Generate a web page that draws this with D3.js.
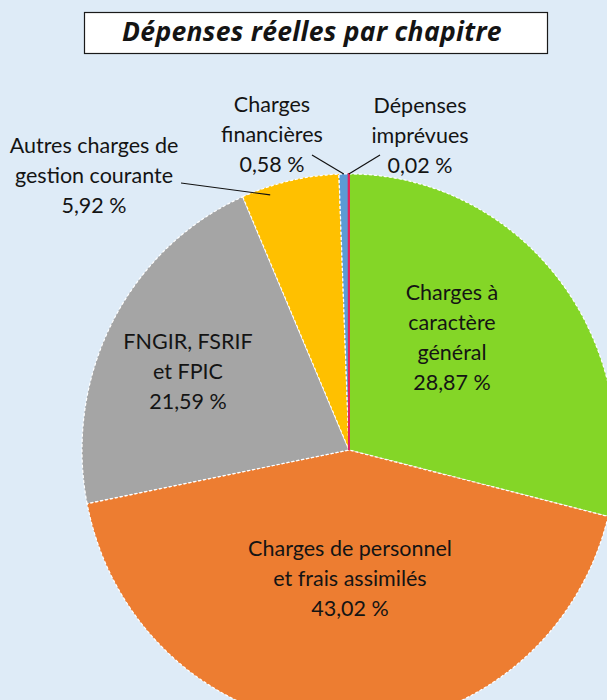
<!DOCTYPE html>
<html>
<head>
<meta charset="utf-8">
<script src="https://cdnjs.cloudflare.com/ajax/libs/d3/7.8.5/d3.min.js"></script>
<style>
  body { margin: 0; background: #deebf7; }
  svg { display: block; }
  text { font-family: Lato, "Noto Sans", sans-serif; fill: #141414; }
</style>
</head>
<body>
<svg width="607" height="700"></svg>
<script>
// data, clockwise from 12 o'clock
const chapters = [
  'Charges à caractère général',
  'Charges de personnel et frais assimilés',
  'FNGIR, FSRIF et FPIC',
  'Autres charges de gestion courante',
  'Charges financières',
  'Dépenses imprévues'
];
const shares = [28.87, 43.02, 21.59, 5.92, 0.58, 0.02];
const labelLines = [
  ['Charges à', 'caractère', 'général'],
  ['Charges de personnel', 'et frais assimilés'],
  ['FNGIR, FSRIF', 'et FPIC'],
  ['Autres charges de', 'gestion courante'],
  ['Charges', 'financières'],
  ['Dépenses', 'imprévues']
];
const colors = ['#84d627', '#ed7d31', '#a5a5a5', '#ffc000', '#5b9bd5', '#e0245e'];

(function (d3) {
  'use strict';

  const svg = d3.select('svg');
  const width = +svg.attr('width');
  const height = +svg.attr('height');

  svg.append('rect')
    .attr('width', width)
    .attr('height', height)
    .attr('fill', '#deebf7');

  // title box
  svg.append('rect')
    .attr('x', 84.5).attr('y', 12.5)
    .attr('width', 463).attr('height', 41)
    .attr('fill', '#ffffff')
    .attr('stroke', '#1a1a1a')
    .attr('stroke-width', 1.2);
  svg.append('text')
    .attr('x', 312).attr('y', 41)
    .attr('text-anchor', 'middle')
    .style('font-family', '"Open Sans", Lato, sans-serif')
    .style('font-size', '26.5px')
    .style('letter-spacing', '0.3px')
    .style('font-weight', 'bold')
    .style('font-style', 'italic')
    .text('Dépenses réelles par chapitre');

  // the pie was slightly stretched vertically in the source
  const cx = 349, cy = 450, radius = 267, stretch = 1.034;
  const fmt = v => d3.format('.2f')(v).replace('.', ',') + ' %';

  const pie = d3.pie().sort(null).value(d => d);
  const arcs = pie(shares);
  const arc = d3.arc().innerRadius(0).outerRadius(radius);

  const pieG = svg.append('g')
    .attr('transform', `translate(${cx},${cy}) scale(1,${stretch})`);

  pieG.selectAll('path.slice')
    .data(arcs)
    .enter().append('path')
      .attr('class', 'slice')
      .attr('d', arc)
      .attr('fill', (d, i) => colors[i])
      .attr('stroke', '#ffffff')
      .attr('stroke-width', 1.2)
      .attr('stroke-dasharray', '3 2');

  // the tiny slice gets an outline in its own colour so it stays visible
  pieG.append('path')
    .datum(arcs[5])
    .attr('d', arc)
    .attr('fill', colors[5])
    .attr('stroke', colors[5])
    .attr('stroke-width', 2);

  // label layout: anchor centre x, first baseline y
  const labelPos = [
    { x: 452, y: 300 },
    { x: 350, y: 556 },
    { x: 188, y: 349 },
    { x: 94, y: 153 },
    { x: 272, y: 112 },
    { x: 420, y: 113 }
  ];
  const lineH = 30;

  const labels = svg.append('g').selectAll('text.label')
    .data(arcs)
    .enter().append('text')
      .attr('class', 'label')
      .attr('text-anchor', 'middle')
      .style('font-size', '21.5px')
      .attr('x', (d, i) => labelPos[i].x)
      .attr('y', (d, i) => labelPos[i].y);

  labels.each(function (d, i) {
    const t = d3.select(this);
    labelLines[i].concat([fmt(shares[i])]).forEach((s, k) => {
      t.append('tspan')
        .attr('x', labelPos[i].x)
        .attr('y', labelPos[i].y + k * lineH)
        .text(s);
    });
  });

  // leader lines for the outside labels: start near label, end on slice
  const leaders = [
    { i: 3, from: [181, 183], t: 0.27, rf: 0.97 },
    { i: 4, from: [312, 155], t: 0.5, rf: 1.0 },
    { i: 5, from: [380, 155], t: 0.5, rf: 1.0 }
  ];
  const pointOn = (d, t, rf) => {
    const a = d.startAngle + (d.endAngle - d.startAngle) * t;
    const r = radius * rf;
    return [cx + r * Math.sin(a), cy - r * Math.cos(a) * stretch];
  };
  svg.append('g').selectAll('line')
    .data(leaders)
    .enter().append('line')
      .attr('x1', d => d.from[0])
      .attr('y1', d => d.from[1])
      .attr('x2', d => pointOn(arcs[d.i], d.t, d.rf)[0])
      .attr('y2', d => pointOn(arcs[d.i], d.t, d.rf)[1])
      .attr('stroke', '#111')
      .attr('stroke-width', 1.2);

}(d3));
</script>
</body>
</html>
